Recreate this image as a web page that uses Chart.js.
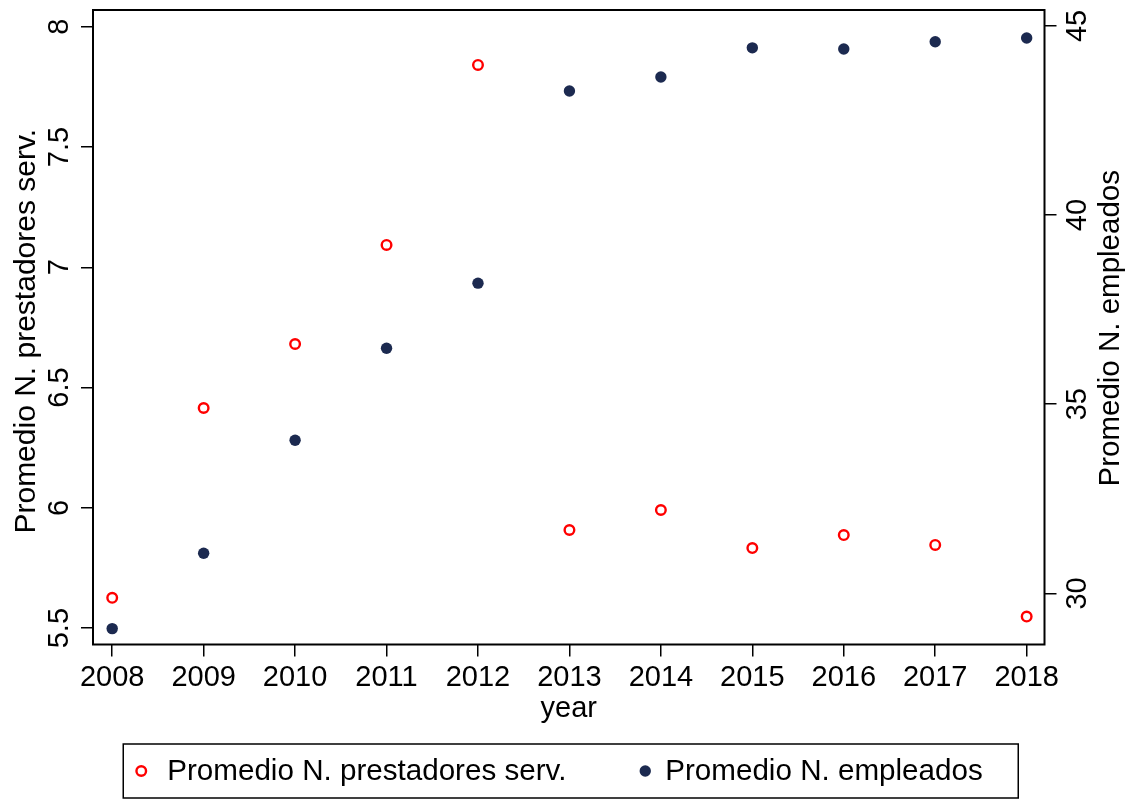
<!DOCTYPE html>
<html>
<head>
<meta charset="utf-8">
<script src="https://cdn.jsdelivr.net/npm/chart.js@4/dist/chart.umd.min.js"></script>
<style>
html,body{margin:0;padding:0;background:#fff;}
#wrap{width:1132px;height:799px;}
</style>
</head>
<body>
<div id="wrap"><canvas id="c" width="1132" height="799"></canvas></div>
<script>
// ---- data ----
const years = [2008, 2009, 2010, 2011, 2012, 2013, 2014, 2015, 2016, 2017, 2018];
const prestadores = [5.626, 6.415, 6.681, 7.093, 7.841, 5.908, 5.991, 5.833, 5.887, 5.846, 5.548];
const empleados = [29.07, 31.06, 34.05, 36.48, 38.20, 43.28, 43.65, 44.42, 44.39, 44.58, 44.68];
const leftTicks = [5.5, 6, 6.5, 7, 7.5, 8];
const rightTicks = [30, 35, 40, 45];
const seriesNames = ['Promedio N. prestadores serv.', 'Promedio N. empleados'];
const leftTitle = 'Promedio N. prestadores serv.';
const rightTitle = 'Promedio N. empleados';
const xTitle = 'year';

const FONT = '"Liberation Sans", Arial, Helvetica, sans-serif';
const FS = 29;
const RED = '#ff0000';
const NAVY = '#1c2a50';
Chart.defaults.font.family = FONT;

const toPts = (xs, ys) => xs.map((x, i) => ({x: x, y: ys[i]}));

const customDraw = {
  id: 'customDraw',
  afterDraw(chart) {
    const ctx = chart.ctx;
    const a = chart.chartArea;
    ctx.save();
    // frame
    ctx.strokeStyle = '#000';
    ctx.lineWidth = 2;
    ctx.strokeRect(a.left, a.top, a.right - a.left, a.bottom - a.top);

    ctx.fillStyle = '#000';
    const rotText = (txt, x, y, size) => {
      ctx.save();
      ctx.font = size + 'px ' + FONT;
      ctx.translate(x, y);
      ctx.rotate(-Math.PI / 2);
      ctx.textAlign = 'center';
      ctx.textBaseline = 'alphabetic';
      ctx.fillText(txt, 0, 0);
      ctx.restore();
    };
    // y tick labels
    const ys = chart.scales.y, ys1 = chart.scales.y1;
    ys.ticks.forEach(t => rotText(String(t.value), 68, ys.getPixelForValue(t.value), FS));
    ys1.ticks.forEach(t => rotText(String(t.value), 1086, ys1.getPixelForValue(t.value), FS));
    const cy = (a.top + a.bottom) / 2;
    rotText(leftTitle, 34.5, cy + 4, 30);
    rotText(rightTitle, 1119, cy + 1, 29.5);
    // x title
    ctx.font = FS + 'px ' + FONT;
    ctx.textAlign = 'center';
    ctx.textBaseline = 'alphabetic';
    ctx.fillText(xTitle, (a.left + a.right) / 2, 717);

    // legend
    const cx = (a.left + a.right) / 2 + 2;
    const bw = 895, bh = 54, bt = 744;
    const bl = cx - bw / 2;
    ctx.lineWidth = 1.5;
    ctx.strokeRect(bl, bt, bw, bh);
    const my = bt + bh / 2;
    ctx.font = '29.6px ' + FONT;
    const items = [
      {x: bl + 18, tx: bl + 44, ds: chart.data.datasets[0]},
      {x: bl + 522, tx: bl + 542, ds: chart.data.datasets[1]}
    ];
    items.forEach(it => {
      ctx.beginPath();
      const ds = it.ds;
      ctx.arc(it.x, my, ds.pointRadius, 0, Math.PI * 2);
      if (ds.pointBorderWidth > 0) {
        ctx.lineWidth = ds.pointBorderWidth;
        ctx.strokeStyle = ds.pointBorderColor;
        ctx.stroke();
      } else {
        ctx.fillStyle = ds.pointBackgroundColor;
        ctx.fill();
      }
      ctx.fillStyle = '#000';
      ctx.textAlign = 'left';
      ctx.textBaseline = 'middle';
      ctx.fillText(ds.label, it.tx, my + 1);
    });
    ctx.restore();
  }
};

new Chart(document.getElementById('c'), {
  type: 'scatter',
  data: {
    datasets: [
      {
        label: seriesNames[0],
        data: toPts(years, prestadores),
        yAxisID: 'y',
        pointStyle: 'circle',
        pointRadius: 4.8,
        pointHoverRadius: 4.8,
        pointBorderWidth: 2.4,
        pointBorderColor: RED,
        pointBackgroundColor: 'rgba(255,255,255,0)',
        showLine: false
      },
      {
        label: seriesNames[1],
        data: toPts(years, empleados),
        yAxisID: 'y1',
        pointStyle: 'circle',
        pointRadius: 5.7,
        pointHoverRadius: 5.7,
        pointBorderWidth: 0,
        pointBorderColor: NAVY,
        pointBackgroundColor: NAVY,
        showLine: false
      }
    ]
  },
  options: {
    responsive: false,
    devicePixelRatio: 1,
    animation: false,
    events: [],
    layout: {padding: {top: 10, left: 0, right: 0, bottom: 0}},
    plugins: {legend: {display: false}, tooltip: {enabled: false}, title: {display: false}},
    scales: {
      x: {
        type: 'linear',
        position: 'bottom',
        min: 2007.79,
        max: 2018.195,
        afterBuildTicks: s => { s.ticks = years.map(v => ({value: v})); },
        afterFit: s => { s.height = 154.5; },
        ticks: {
          color: '#000',
          font: {size: FS, family: FONT},
          padding: 4,
          maxRotation: 0,
          minRotation: 0,
          autoSkip: false,
          callback: v => String(v)
        },
        grid: {display: true, drawOnChartArea: false, drawTicks: true, tickLength: 12, color: '#000', lineWidth: 1.5},
        border: {display: false}
      },
      y: {
        type: 'linear',
        position: 'left',
        min: 5.432,
        max: 8.0694,
        afterBuildTicks: s => { s.ticks = leftTicks.map(v => ({value: v})); },
        afterFit: s => { s.width = 93; },
        ticks: {display: false},
        grid: {display: true, drawOnChartArea: false, drawTicks: true, tickLength: 12, color: '#000', lineWidth: 1.5},
        border: {display: false}
      },
      y1: {
        type: 'linear',
        position: 'right',
        min: 28.65,
        max: 45.42,
        afterBuildTicks: s => { s.ticks = rightTicks.map(v => ({value: v})); },
        afterFit: s => { s.width = 87.5; },
        ticks: {display: false},
        grid: {display: true, drawOnChartArea: false, drawTicks: true, tickLength: 12, color: '#000', lineWidth: 1.5},
        border: {display: false}
      }
    }
  },
  plugins: [customDraw]
});
</script>
</body>
</html>
